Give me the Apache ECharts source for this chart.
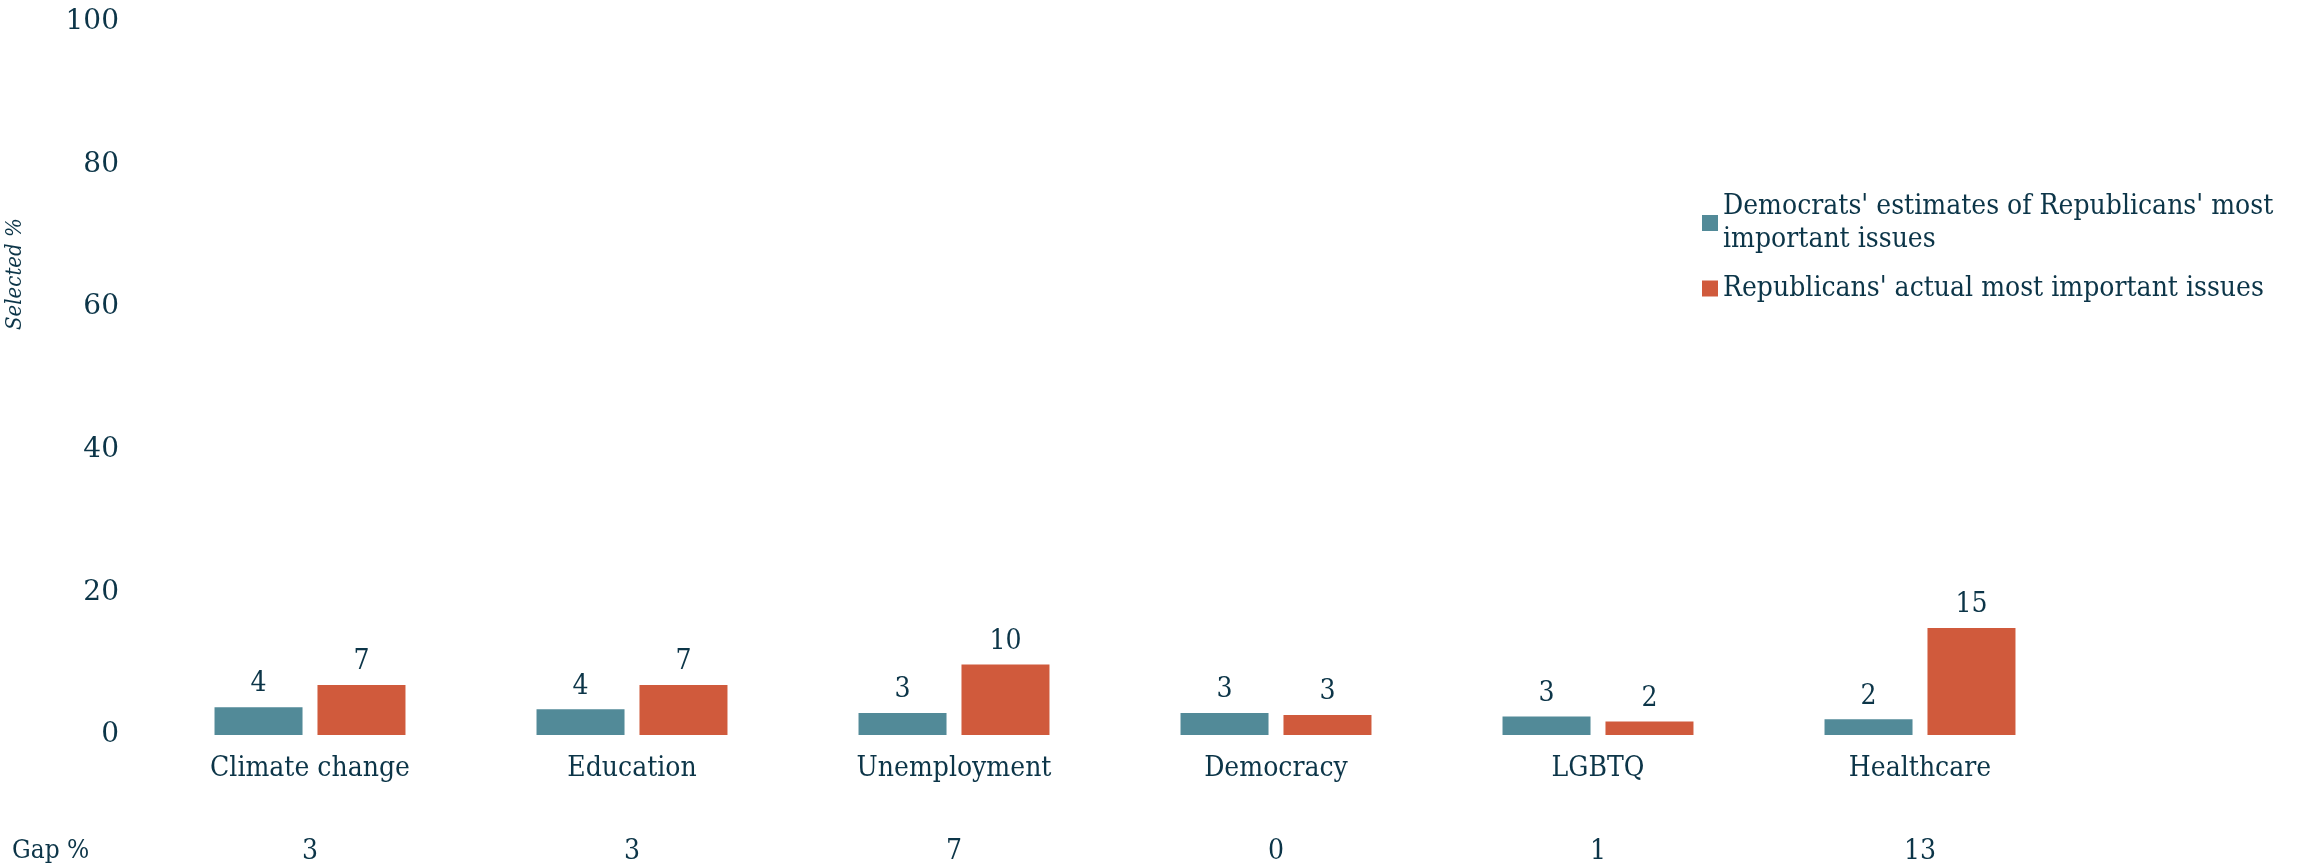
<!DOCTYPE html>
<html>
<head>
<meta charset="utf-8">
<script src="https://cdn.jsdelivr.net/npm/echarts@6/dist/echarts.min.js"></script>
<style>
html,body{margin:0;padding:0;background:#fff;}
#chart{width:2305px;height:866px;}
</style>
</head>
<body>
<div id="chart"></div>
<script>
const categories = ['Climate change', 'Education', 'Unemployment', 'Democracy', 'LGBTQ', 'Healthcare'];
const demEstimates = [3.9, 3.6, 3.1, 3.1, 2.6, 2.2];
const repActual = [7.0, 7.0, 9.9, 2.8, 1.9, 15.0];
const gapValues = [3, 3, 7, 0, 1, 13];
const seriesNames = ["Democrats' estimates of Republicans' most important issues", "Republicans' actual most important issues"];

const TEXT = '#0c3548';
const BLUE = '#528a98';
const RED = '#d05a3c';
const COND = '"DejaVu Serif Condensed", "DejaVu Serif", serif';
const SERIF = '"DejaVu Serif", serif';

const chart = echarts.init(document.getElementById('chart'), null, {renderer: 'canvas'});
const labelStyle = {
  show: true, position: 'top', distance: 9,
  color: TEXT, fontFamily: COND, fontSize: 28,
  formatter: p => Math.round(p.value)
};
chart.setOption({
  animation: false,
  backgroundColor: '#ffffff',
  grid: {left: 149, right: 224, top: 22, bottom: 128},
  legend: {
    orient: 'vertical', left: 1697, top: 185,
    itemWidth: 16, itemHeight: 16, itemGap: 16, icon: 'rect',
    textStyle: {color: TEXT, fontFamily: COND, fontSize: 28, lineHeight: 33},
    formatter: name => name === seriesNames[0] ? "Democrats' estimates of Republicans' most\nimportant issues" : name
  },
  xAxis: [{
    type: 'category', data: categories, position: 'bottom',
    axisLine: {show: false}, axisTick: {show: false},
    axisLabel: {color: TEXT, fontFamily: COND, fontSize: 28, margin: 20}
  }, {
    type: 'category', data: categories, position: 'bottom',
    axisLine: {show: false}, axisTick: {show: false},
    axisLabel: {color: TEXT, fontFamily: COND, fontSize: 28, margin: 103,
      formatter: (v, i) => String(gapValues[i])}
  }],
  yAxis: {
    type: 'value', min: 0, max: 100, interval: 20,
    splitLine: {show: false}, axisLine: {show: false}, axisTick: {show: false},
    axisLabel: {color: TEXT, fontFamily: SERIF, fontSize: 28, margin: 30}
  },
  graphic: [
    {type: 'text', left: 12, top: 838, style: {text: 'Gap %', fill: TEXT, font: '26px ' + COND}},
    {type: 'text', x: 4, y: 330, rotation: Math.PI / 2, style: {text: 'Selected %', fill: TEXT, font: 'italic 22px ' + COND}}
  ],
  series: [{
    name: seriesNames[0], type: 'bar', data: demEstimates,
    itemStyle: {color: BLUE}, barWidth: 88, barGap: '17%', label: labelStyle
  }, {
    name: seriesNames[1], type: 'bar', data: repActual,
    itemStyle: {color: RED}, barWidth: 88, barGap: '17%', label: labelStyle
  }]
});
</script>
</body>
</html>
